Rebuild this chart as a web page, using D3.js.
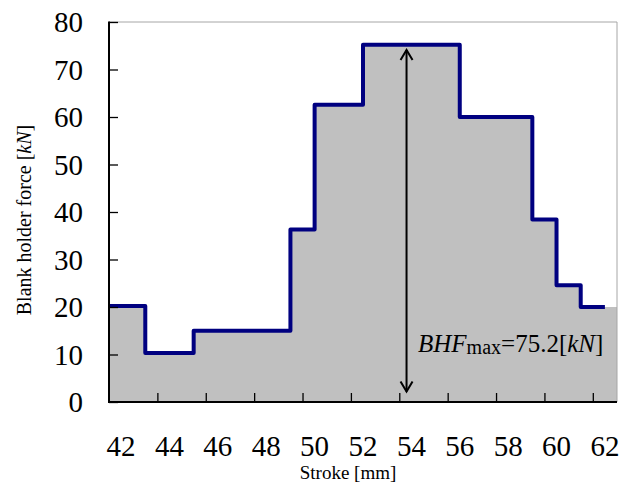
<!DOCTYPE html>
<html><head><meta charset="utf-8">
<script src="https://cdn.jsdelivr.net/npm/d3@7"></script>
<style>body{margin:0;background:#fff}svg{display:block}text{font-family:"Liberation Serif","Times New Roman",serif;fill:#000}</style>
</head><body>
<svg id="c" width="622" height="482"></svg>
<script>
// Data
const stepStart = [41.5, 43, 45, 49, 50, 52, 56, 59, 60, 61];
const force     = [20.2, 10.3, 15.0, 36.3, 62.6, 75.2, 60.0, 38.4, 24.6, 20.0];
const lineEnd = 62.0, fillEnd = 62.5;
const xTickLabels = [42, 44, 46, 48, 50, 52, 54, 56, 58, 60, 62];
const xTickMarks = [43.5, 45.5, 47.5, 49.5, 51.5, 53.5, 55.5, 57.5, 59.5, 61.5];
const yTicks = [0, 10, 20, 30, 40, 50, 60, 70, 80];
const arrowX = 53.8, arrowFrom = 2.2, arrowTo = 74.1;
const bhfMax = "75.2";

const svg = d3.select("#c");
const L = 109, R = 617, T = 22, B = 402;
const x = d3.scaleLinear().domain([41.5, 62.5]).range([L, R]);
const y = d3.scaleLinear().domain([0, 80]).range([B, T]);

// fill
const fillPts = stepStart.map((s, i) => [s, force[i]]);
fillPts.push([fillEnd, force[force.length - 1]]);
const area = d3.area().x(d => x(d[0])).y0(y(0)).y1(d => y(d[1])).curve(d3.curveStepAfter);
svg.append("path").attr("d", area(fillPts)).attr("fill", "#c0c0c0");

// border top/right
svg.append("path").attr("d", `M${L},${T}H${R}V${B}`).attr("fill", "none").attr("stroke", "#a6a6a6").attr("stroke-width", 1);

// step line
const linePts = stepStart.map((s, i) => [s, force[i]]);
linePts.push([lineEnd, force[force.length - 1]]);
const line = d3.line().x(d => x(d[0])).y(d => y(d[1])).curve(d3.curveStepAfter);
svg.append("path").attr("d", line(linePts)).attr("fill", "none").attr("stroke", "#000080").attr("stroke-width", 4).attr("stroke-linejoin", "round");

// axes
const yAxis = svg.append("g").attr("transform", `translate(${L},0)`)
  .call(d3.axisRight(y).tickValues(yTicks).tickSize(9).tickFormat(""));
yAxis.select(".domain").remove();
yAxis.selectAll("line").attr("stroke", "#000").attr("stroke-width", 1.3);
svg.append("line").attr("x1", L).attr("x2", L).attr("y1", T - 0.5).attr("y2", B + 1).attr("stroke", "#000").attr("stroke-width", 2);

const xAxis = svg.append("g").attr("transform", `translate(0,${B})`)
  .call(d3.axisTop(x).tickValues(xTickMarks).tickSize(9).tickFormat(""));
xAxis.select(".domain").remove();
xAxis.selectAll("line").attr("stroke", "#000").attr("stroke-width", 1.3);
svg.append("line").attr("x1", L - 1).attr("x2", R).attr("y1", B).attr("y2", B).attr("stroke", "#000").attr("stroke-width", 2);

// tick labels
svg.append("g").selectAll("text").data(yTicks).join("text")
  .attr("x", 83).attr("y", d => y(d)).attr("dy", "0.35em").attr("text-anchor", "end")
  .style("font-size", "29px").text(d => d);
svg.append("g").selectAll("text").data(xTickLabels).join("text")
  .attr("x", d => x(d)).attr("y", 456).attr("text-anchor", "middle")
  .style("font-size", "29px").text(d => d);

// axis titles
const yt = svg.append("text").attr("transform", "translate(31,220) rotate(-90)").attr("text-anchor", "middle").style("font-size", "20px");
yt.append("tspan").text("Blank holder force [");
yt.append("tspan").style("font-style", "italic").text("kN");
yt.append("tspan").text("]");
svg.append("text").attr("x", 348).attr("y", 479).attr("text-anchor", "middle").style("font-size", "19px").text("Stroke [mm]");

// arrow
const ax = x(arrowX);
svg.append("line").attr("x1", ax).attr("x2", ax).attr("y1", y(arrowTo)).attr("y2", y(arrowFrom)).attr("stroke", "#000").attr("stroke-width", 2);
const hs = 6, hl = 10;
svg.append("path").attr("d", `M${ax - hs},${y(arrowTo) + hl}L${ax},${y(arrowTo)}L${ax + hs},${y(arrowTo) + hl}`).attr("fill", "none").attr("stroke", "#000").attr("stroke-width", 2);
svg.append("path").attr("d", `M${ax - hs},${y(arrowFrom) - hl}L${ax},${y(arrowFrom)}L${ax + hs},${y(arrowFrom) - hl}`).attr("fill", "none").attr("stroke", "#000").attr("stroke-width", 2);

// annotation
const an = svg.append("text").attr("x", 418).attr("y", 352).style("font-size", "25px");
an.append("tspan").style("font-style", "italic").text("BHF");
an.append("tspan").style("font-size", "20px").attr("dy", 2).text("max");
an.append("tspan").attr("dy", -2).text("=" + bhfMax + "[");
an.append("tspan").style("font-style", "italic").text("kN");
an.append("tspan").text("]");
</script>
</body></html>
